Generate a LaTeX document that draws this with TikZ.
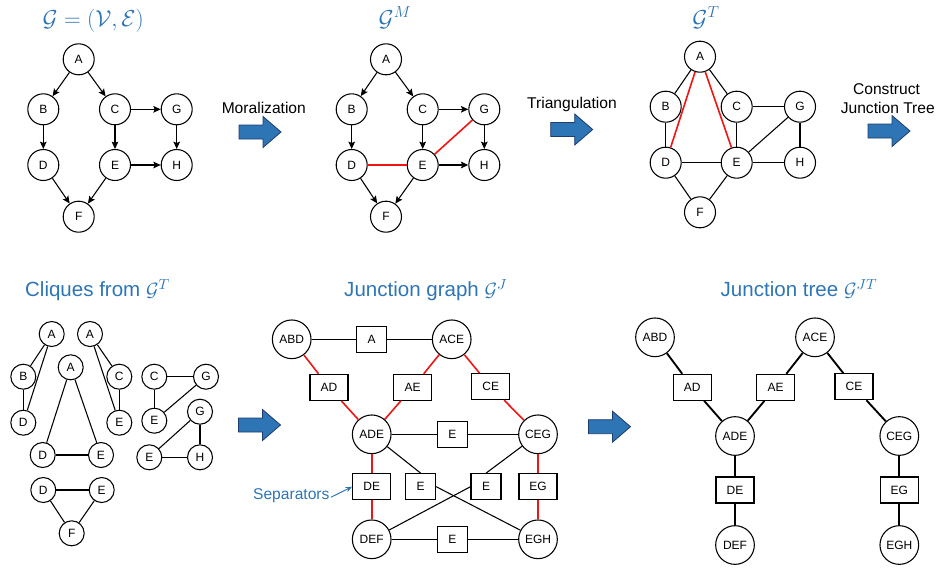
\documentclass[tikz,border=0pt]{standalone}
\usepackage{fontspec}
\setmainfont{Liberation Sans}
\usetikzlibrary{arrows.meta}
\definecolor{tblue}{RGB}{46,117,182}
\definecolor{aedge}{RGB}{30,60,110}
\definecolor{ered}{RGB}{240,20,20}
\newcommand{\blkarrow}[2]{\draw[barrow] (#1-21,#2-7) -- ++(24,0) -- ++(0,-8.5) -- ++(18,15.5) -- ++(-18,15.5) -- ++(0,-8.5) -- ++(-24,0) -- cycle;}
\begin{document}
\begin{tikzpicture}[x=0.75pt,y=-0.75pt,
  v/.style={circle,draw,line width=0.8pt,minimum size=23.25pt,inner sep=0pt,font=\fontsize{9}{10}\selectfont},
  cv/.style={v,minimum size=18.75pt},
  jv/.style={v,minimum size=29pt},
  sb/.style={draw,line width=0.8pt,minimum width=22.5pt,minimum height=19.5pt,inner sep=0pt,font=\fontsize{9}{10}\selectfont},
  wb/.style={sb,minimum width=28.5pt},
  e/.style={line width=0.8pt},
  de/.style={e,-{Stealth[length=5.5pt,width=5pt,inset=1pt]}},
  re/.style={ered,line width=1.2pt},
  te/.style={line width=1.4pt},
  ttl/.style={text=tblue,font=\fontsize{15.4}{18}\selectfont,anchor=base},
  mttl/.style={text=tblue,font=\fontsize{17.28}{20}\selectfont,anchor=base},
  lbl/.style={font=\fontsize{11.7}{14}\selectfont,anchor=base},
  barrow/.style={fill=tblue,draw=aedge,line width=0.6pt}]
\useasboundingbox (0,0) rectangle (938,569);

% ---------- titles ----------
\node[mttl] (t1) at (93.3,26) {$\mathcal{G}=(\mathcal{V},\mathcal{E})$};
\node[mttl] (t2) at (395,26) {$\mathcal{G}^{M}$};
\node[mttl] (t3) at (706,26) {$\mathcal{G}^{T}$};
\node[ttl] (t4) at (97.5,296.7) {Cliques from $\mathcal{G}^{T}$};
\node[ttl] (t5) at (425.8,296.7) {Junction graph $\mathcal{G}^{J}$};
\node[ttl] (t6) at (799,296.7) {Junction tree $\mathcal{G}^{JT}$};

% ---------- step labels & arrows ----------
\node[lbl] (l1) at (263.8,113.3) {Moralization};
\node[lbl] (l2) at (572,108.3) {Triangulation};
\node[lbl] (l3) at (886.5,94.3) {Construct};
\node[lbl] (l4) at (887.8,113.3) {Junction Tree};
\blkarrow{260}{132}
\blkarrow{571.7}{129.5}
\blkarrow{889}{131}
\blkarrow{259.5}{425}
\blkarrow{609.5}{426.7}

% ---------- G ----------
\node[v] (gA) at (78.7,59.3) {A};
\node[v] (gB) at (43.3,109.3) {B};
\node[v] (gC) at (115,109.3) {C};
\node[v] (gG) at (176.7,109.3) {G};
\node[v] (gD) at (43.3,165) {D};
\node[v] (gE) at (115,165) {E};
\node[v] (gH) at (176.7,165) {H};
\node[v] (gF) at (78.7,216.7) {F};
\draw[de] (gA) -- (gB);
\draw[de] (gA) -- (gC);
\draw[de] (gB) -- (gD);
\draw[de] (gC) -- (gE);
\draw[de] (gC) -- (gG);
\draw[de] (gG) -- (gH);
\draw[de] (gE) -- (gH);
\draw[de] (gD) -- (gF);
\draw[de] (gE) -- (gF);

% ---------- G^M ----------
\node[v] (mA) at (386,59.3) {A};
\node[v] (mB) at (351.7,109.3) {B};
\node[v] (mC) at (422.7,109.3) {C};
\node[v] (mG) at (484.3,109.3) {G};
\node[v] (mD) at (351.7,165) {D};
\node[v] (mE) at (422.7,165) {E};
\node[v] (mH) at (484.3,165) {H};
\node[v] (mF) at (386,216.7) {F};
\draw[de] (mA) -- (mB);
\draw[de] (mA) -- (mC);
\draw[de] (mB) -- (mD);
\draw[de] (mC) -- (mE);
\draw[de] (mC) -- (mG);
\draw[de] (mG) -- (mH);
\draw[de] (mE) -- (mH);
\draw[de] (mD) -- (mF);
\draw[de] (mE) -- (mF);
\draw[re] (mD) -- (mE);
\draw[re] (mE) -- (mG);

% ---------- G^T ----------
\node[v] (tA) at (700,56.7) {A};
\node[v] (tB) at (665.7,106.7) {B};
\node[v] (tC) at (736.7,106.7) {C};
\node[v] (tG) at (800,106.7) {G};
\node[v] (tD) at (665.7,162.7) {D};
\node[v] (tE) at (736.7,162.7) {E};
\node[v] (tH) at (800,162.7) {H};
\node[v] (tF) at (700,212.3) {F};
\draw[e] (tA) -- (tB);
\draw[e] (tA) -- (tC);
\draw[e] (tB) -- (tD);
\draw[e] (tC) -- (tE);
\draw[e] (tC) -- (tG);
\draw[e] (tG) -- (tH);
\draw[e] (tE) -- (tH);
\draw[e] (tE) -- (tG);
\draw[e] (tD) -- (tE);
\draw[e] (tD) -- (tF);
\draw[e] (tE) -- (tF);
\draw[re] (tA) -- (tD);
\draw[re] (tA) -- (tE);

% ---------- cliques ----------
\node[cv] (k1A) at (51.7,334) {A};
\node[cv] (k1B) at (23.3,376.7) {B};
\node[cv] (k1D) at (23.3,422.7) {D};
\draw[e] (k1A) -- (k1B); \draw[e] (k1A) -- (k1D); \draw[e] (k1B) -- (k1D);

\node[cv] (k2A) at (90,334) {A};
\node[cv] (k2C) at (119.3,376.7) {C};
\node[cv] (k2E) at (119.3,422.7) {E};
\draw[e] (k2A) -- (k2C); \draw[e] (k2A) -- (k2E); \draw[e] (k2C) -- (k2E);

\node[cv] (k3A) at (70.7,367.3) {A};
\node[cv] (k3D) at (42.7,455) {D};
\node[cv] (k3E) at (101,455) {E};
\draw[e] (k3A) -- (k3D); \draw[e] (k3A) -- (k3E); \draw[e] (k3D) -- (k3E);

\node[cv] (k4D) at (43.3,490) {D};
\node[cv] (k4E) at (101.7,490) {E};
\node[cv] (k4F) at (71.7,533.3) {F};
\draw[e] (k4D) -- (k4E); \draw[e] (k4D) -- (k4F); \draw[e] (k4E) -- (k4F);

\node[cv] (k5C) at (154.3,376.7) {C};
\node[cv] (k5G) at (206,376.7) {G};
\node[cv] (k5E) at (154.3,420.7) {E};
\draw[e] (k5C) -- (k5G); \draw[e] (k5C) -- (k5E); \draw[e] (k5E) -- (k5G);

\node[cv] (k6G) at (200,411.7) {G};
\node[cv] (k6E) at (149.3,457.3) {E};
\node[cv] (k6H) at (200,457.3) {H};
\draw[e] (k6G) -- (k6E); \draw[e] (k6G) -- (k6H); \draw[e] (k6E) -- (k6H);

% ---------- junction graph ----------
\node[jv] (jABD) at (291.7,339.3) {ABD};
\node[jv] (jACE) at (451.7,339.3) {ACE};
\node[jv] (jADE) at (371.7,434.3) {ADE};
\node[jv] (jCEG) at (538,434.3) {CEG};
\node[jv] (jDEF) at (371.7,539.3) {DEF};
\node[jv] (jEGH) at (538,539.3) {EGH};
\node[sb] (jA) at (371.7,339.3) {A};
\node[wb] (jAD) at (329,387.3) {AD};
\node[wb] (jAE) at (412.7,387.3) {AE};
\node[wb] (jCE) at (490.7,386.7) {CE};
\node[sb] (jE1) at (452.3,434.3) {E};
\node[wb] (jDE) at (371.7,486.7) {DE};
\node[sb] (jE2) at (420.7,486.7) {E};
\node[sb] (jE3) at (486,486.7) {E};
\node[wb] (jEG) at (538,486.7) {EG};
\node[sb] (jE4) at (452.3,539.3) {E};
\draw[e] (jABD) -- (jA); \draw[e] (jA) -- (jACE);
\draw[re] (jABD) -- (jAD); \draw[re] (jAD) -- (jADE);
\draw[re] (jACE) -- (jAE); \draw[re] (jAE) -- (jADE);
\draw[re] (jACE) -- (jCE); \draw[re] (jCE) -- (jCEG);
\draw[e] (jADE) -- (jE1); \draw[e] (jE1) -- (jCEG);
\draw[re] (jADE) -- (jDE); \draw[re] (jDE) -- (jDEF);
\draw[re] (jCEG) -- (jEG); \draw[re] (jEG) -- (jEGH);
\draw[e] (jADE) -- (jE2.north); \draw[e] (jE2.east) -- (jEGH);
\draw[e] (jCEG) -- (jE3.north); \draw[e] (jE3.west) -- (jDEF);
\draw[e] (jDEF) -- (jE4); \draw[e] (jE4) -- (jEGH);
\node[lbl,text=tblue,anchor=base,inner sep=1pt] (sep) at (291.3,499) {Separators};
\draw[tblue,line width=0.7pt,-{Stealth[length=5pt,width=4pt]}] ([yshift=-1.5pt]sep.east) -- (jDE.west);

% ---------- junction tree ----------
\node[jv] (uABD) at (655,337.3) {ABD};
\node[jv] (uACE) at (815,337.3) {ACE};
\node[jv] (uADE) at (735,436) {ADE};
\node[jv] (uCEG) at (899.3,436) {CEG};
\node[jv] (uDEF) at (735,545) {DEF};
\node[jv] (uEGH) at (899.3,545) {EGH};
\node[wb] (uAD) at (692.3,387.3) {AD};
\node[wb] (uAE) at (775.7,387.3) {AE};
\node[wb] (uCE) at (854,386.7) {CE};
\node[wb] (uDE) at (735,490) {DE};
\node[wb] (uEG) at (899.3,490) {EG};
\draw[te] (uABD) -- (uAD); \draw[te] (uAD) -- (uADE);
\draw[te] (uACE) -- (uAE); \draw[te] (uAE) -- (uADE);
\draw[te] (uACE) -- (uCE); \draw[te] (uCE) -- (uCEG);
\draw[te] (uADE) -- (uDE); \draw[te] (uDE) -- (uDEF);
\draw[te] (uCEG) -- (uEG); \draw[te] (uEG) -- (uEGH);
\end{tikzpicture}
\end{document}
